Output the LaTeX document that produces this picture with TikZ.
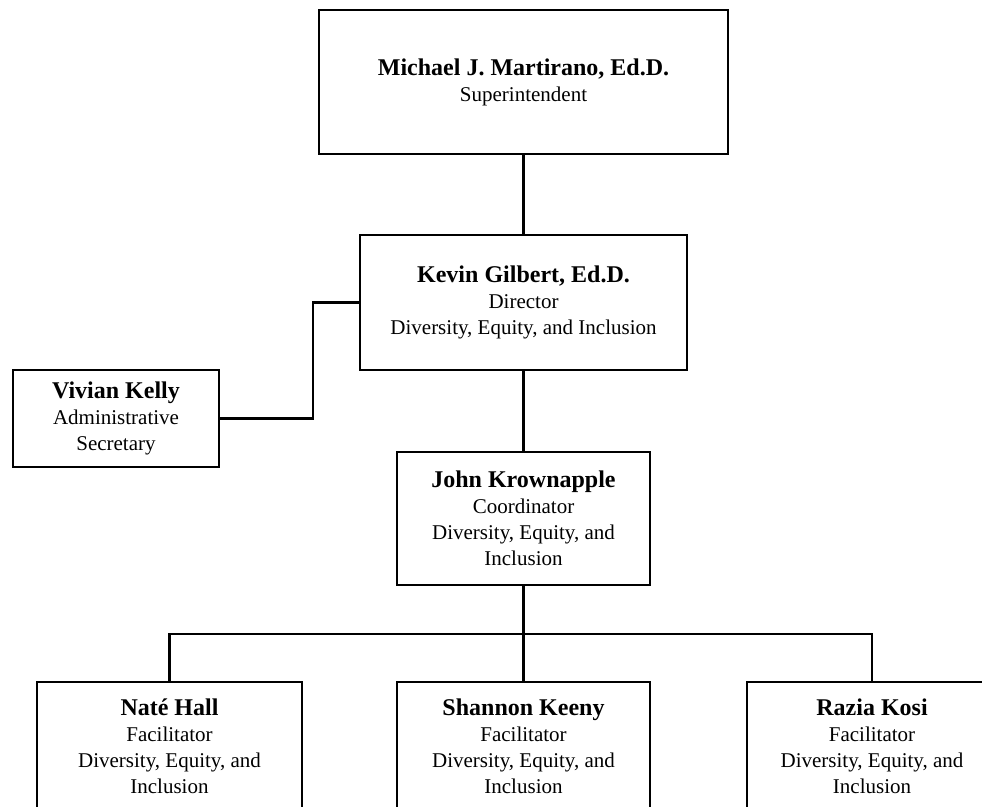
\documentclass[tikz,border=0pt]{standalone}
\usepackage{fontspec}
\setmainfont{Liberation Serif}
\usetikzlibrary{calc}
\newcommand{\who}[1]{{\fontsize{24}{26}\selectfont\bfseries #1}}
\begin{document}
\begin{tikzpicture}[x=1pt,y=-1pt,every node/.style={outer sep=0pt,inner sep=0pt}]

\tikzstyle{box}=[draw,line width=2.3pt,align=center,font=\fontsize{21}{26}\selectfont]
\tikzstyle{link}=[line width=2.1pt]

\useasboundingbox (0,0) rectangle (982,806);
\clip (0,0) rectangle (982,806);

\node (super) at (523.5,82) [box,minimum width=409,minimum height=144] {\who{Michael J. Martirano, Ed.D.}\\Superintendent};
\node (director) at (523.5,302.5) [box,minimum width=327,minimum height=135] {\who{Kevin Gilbert, Ed.D.}\\Director\\Diversity, Equity, and Inclusion};
\node (secretary) at (116,418.5) [box,minimum width=206,minimum height=97] {\who{Vivian Kelly}\\Administrative\\Secretary};
\node (coord) at (523.5,518.5) [box,minimum width=253,minimum height=133] {\who{John Krownapple}\\Coordinator\\Diversity, Equity, and\\Inclusion};

% facilitators, cut by the page edge
\node (nate) at (169.5,746) [box,minimum width=265,minimum height=128] {\who{Naté Hall}\\Facilitator\\Diversity, Equity, and\\Inclusion};
\node (shannon) at (523.5,746) [box,minimum width=253,minimum height=128] {\who{Shannon Keeny}\\Facilitator\\Diversity, Equity, and\\Inclusion};
\node (razia) at (872,746) [box,minimum width=250,minimum height=128] {\who{Razia Kosi}\\Facilitator\\Diversity, Equity, and\\Inclusion};

\coordinate (jog) at (313,0);
\coordinate (bar) at (523.5,634);

\draw [link] (super.south) -- (director.north);
\draw [link] (secretary.east) -| (jog |- director.west) -- (director.west);
\draw [link] (director.south) -- (coord.north);
\draw [link] (coord.south) -- (shannon.north);
\draw [link] (nate.north) |- (bar) -| (razia.north);

\end{tikzpicture}
\end{document}
